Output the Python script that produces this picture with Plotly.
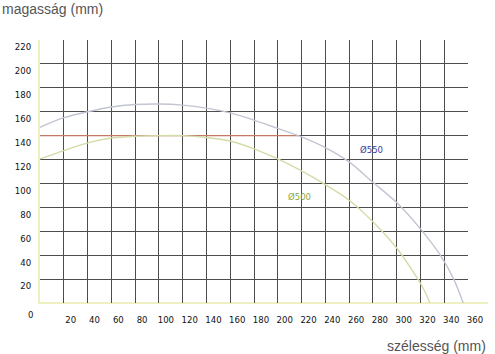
import plotly.graph_objects as go

# --- data ---
x_550 = [0, 20, 40, 60, 80, 100, 120, 140, 160, 180, 200, 220, 240, 260, 280, 300, 320, 336, 348, 356]
y_550 = [147, 155, 160, 164, 166, 166.5, 165.5, 163, 159, 153, 146, 139, 130, 118, 101, 84, 62, 41, 20, 0]

x_500 = [0, 20, 40, 60, 80, 100, 120, 140, 160, 180, 200, 220, 240, 260, 280, 300, 312, 322, 328]
y_500 = [120.5, 127.5, 134, 138, 139.5, 140, 140, 138.5, 135.5, 129, 120.5, 110.5, 99, 86, 68, 46, 29, 13, 0]

x_limit = [0, 218]
y_limit = [140, 140]

x_ticks = list(range(20, 361, 20))
y_ticks = list(range(20, 221, 20))

label_550 = "Ø550"
label_500 = "Ø500"
pos_550 = (279, 128)
pos_500 = (218, 89)

GRID = "#4d4d4d"
TICKFONT = dict(family="DejaVu Sans Condensed, DejaVu Sans", size=9.5, color="#111111")

fig = go.Figure()
fig.add_trace(go.Scatter(x=x_limit, y=y_limit, mode="lines",
                         line=dict(color="#c47a66", width=1.3), hoverinfo="skip"))
fig.add_trace(go.Scatter(x=x_550, y=y_550, mode="lines",
                         line=dict(color="#c2c5d2", width=1.4, shape="spline", smoothing=0.8)))
fig.add_trace(go.Scatter(x=x_500, y=y_500, mode="lines",
                         line=dict(color="#d2dca6", width=1.4, shape="spline", smoothing=0.8)))

fig.add_annotation(x=pos_550[0], y=pos_550[1], text=label_550, showarrow=False,
                   font=dict(family="DejaVu Sans Condensed, DejaVu Sans", size=9.5, color="#3b3b9c"))
fig.add_annotation(x=pos_500[0], y=pos_500[1], text=label_500, showarrow=False,
                   font=dict(family="DejaVu Sans Condensed, DejaVu Sans", size=9.5, color="#8fa83c"))
fig.add_annotation(x=0, y=0, text="0", showarrow=False, xshift=-10, yshift=-11,
                   font=TICKFONT)

fig.add_annotation(xref="paper", yref="paper", x=-40/430, y=1 + 31/263, xanchor="left", yanchor="middle",
                   text="magasság (mm)", showarrow=False,
                   font=dict(family="Liberation Sans, Arial", size=14, color="#555555"))
fig.add_annotation(xref="paper", yref="paper", x=1 + 20/430, y=-43/263, xanchor="right", yanchor="middle",
                   text="szélesség (mm)", showarrow=False,
                   font=dict(family="Liberation Sans, Arial", size=14, color="#555555"))

# pale yellow baseline running a little past the plot
fig.add_shape(type="line", xref="paper", yref="paper", x0=-2/430, x1=1 + 20/430, y0=0, y1=0,
              line=dict(color="#eef0c4", width=2), layer="below")

fig.update_layout(
    width=495, height=354,
    margin=dict(l=40, r=25, t=40, b=51),
    paper_bgcolor="white", plot_bgcolor="white",
    showlegend=False,
)
fig.update_xaxes(range=[0, 360], tickvals=x_ticks, showgrid=True, gridcolor=GRID, gridwidth=1.4,
                 zeroline=False, showline=False, ticks="", tickfont=TICKFONT,
                 ticklabelshift=7, ticklabelstandoff=9)
fig.update_yaxes(range=[0, 220], tickvals=y_ticks, showgrid=True, gridcolor=GRID, gridwidth=1.4,
                 zeroline=False, showline=True, linecolor="#eef0c4", linewidth=2, ticks="",
                 tickfont=TICKFONT, ticklabelshift=7, ticklabelstandoff=5)

fig.write_html("out.html")
